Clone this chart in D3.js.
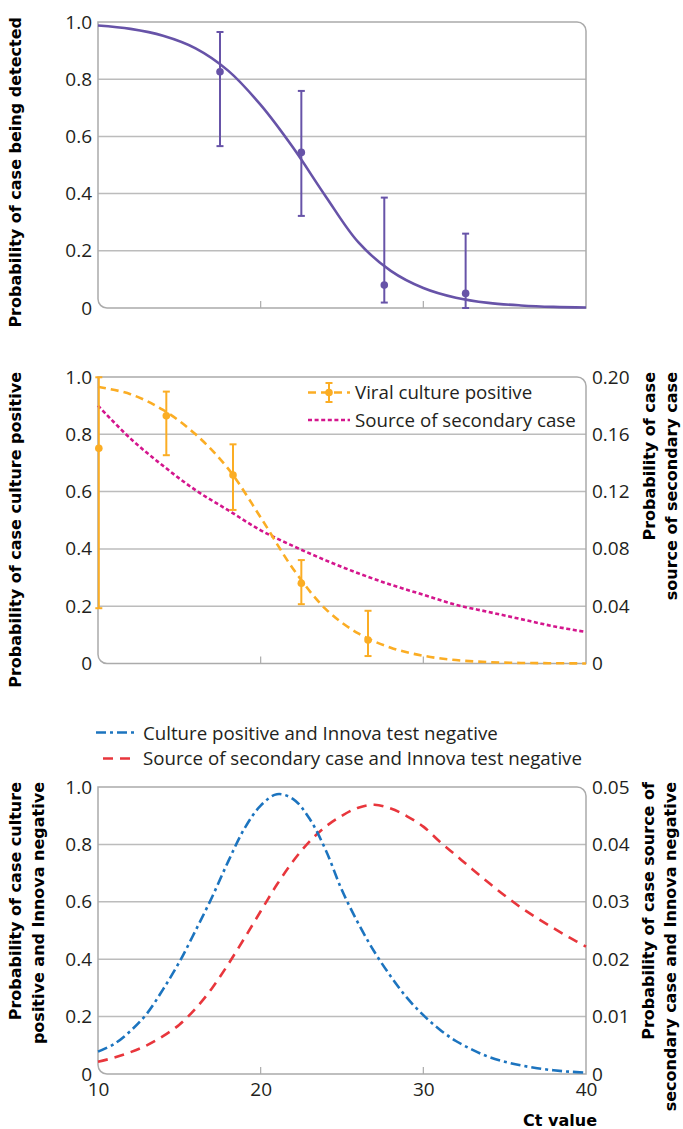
<!DOCTYPE html>
<html>
<head>
<meta charset="utf-8">
<script src="https://cdn.jsdelivr.net/npm/d3@7"></script>
<style>
  body { margin: 0; background: #fff; }
  svg text { font-family: "Open Sans", sans-serif; fill: #231f20; }
  .tick text { font-size: 19px; }
  .legend text { font-size: 18.7px; }
  .title { font-family: "DejaVu Sans", sans-serif; font-weight: bold; font-size: 16px; fill: #000; }
</style>
</head>
<body>
<svg id="chart" width="683" height="1129"></svg>
<script>
/*
** Data
*/
var ctTicks = [10, 20, 30, 40];
var leftTicks = [0, 0.2, 0.4, 0.6, 0.8, 1.0];
var gridTicks = [0.2, 0.4, 0.6, 0.8];
var midRightTicks = [0, 0.04, 0.08, 0.12, 0.16, 0.20];
var lowRightTicks = [0, 0.01, 0.02, 0.03, 0.04, 0.05];

// panel A: detection by lateral flow
var detectCt = [17.5, 22.5, 27.6, 32.6];
var detectP = [0.826, 0.544, 0.080, 0.051];
var detectLo = [0.566, 0.322, 0.019, 0.0];
var detectHi = [0.965, 0.759, 0.386, 0.26];

var curveCt = [10, 12, 14, 16, 18, 20, 22, 24, 26, 28, 30, 32, 34, 36, 38, 40];
var detectCurve = [0.988, 0.976, 0.952, 0.908, 0.83, 0.71, 0.56, 0.39, 0.23, 0.13, 0.07, 0.036, 0.018, 0.009, 0.004, 0.002];

// panel B: culture positive + secondary case
var cultureCt = [10.05, 14.2, 18.3, 22.5, 26.6];
var cultureP = [0.751, 0.865, 0.658, 0.28, 0.082];
var cultureLo = [0.193, 0.727, 0.536, 0.207, 0.026];
var cultureHi = [0.999, 0.949, 0.765, 0.361, 0.184];
var cultureCurve = [0.966, 0.94, 0.885, 0.80, 0.68, 0.51, 0.33, 0.19, 0.105, 0.055, 0.027, 0.012, 0.005, 0.002, 0.001, 0.0];
var secondaryCurve = [0.180, 0.157, 0.138, 0.121, 0.107, 0.093, 0.082, 0.072, 0.063, 0.055, 0.048, 0.041, 0.036, 0.031, 0.026, 0.022];

// panel C: missed by the Innova test
var jointCt = [10, 11, 12, 13, 14, 15, 16, 17, 18, 19, 20, 21, 22, 23, 24, 25, 26, 27, 28, 29, 30, 31, 32, 33, 34, 35, 36, 37, 38, 39, 40];
var cultureNegCurve = [0.078, 0.105, 0.15, 0.21, 0.295, 0.39, 0.50, 0.615, 0.74, 0.855, 0.935, 0.975, 0.958, 0.89, 0.78, 0.64, 0.525, 0.425, 0.34, 0.265, 0.205, 0.155, 0.115, 0.085, 0.06, 0.043, 0.03, 0.02, 0.013, 0.008, 0.005];
var secondaryNegCurve = [0.00215, 0.00285, 0.0038, 0.005, 0.0066, 0.0086, 0.0114, 0.0149, 0.0191, 0.02365, 0.02835, 0.033, 0.0371, 0.0405, 0.0431, 0.045, 0.0464, 0.0469, 0.04625, 0.0449, 0.0431, 0.0405, 0.0381, 0.0357, 0.03335, 0.0311, 0.029, 0.02715, 0.0254, 0.02375, 0.0222];

var colors = {
    purple: "#6753a8"
  , orange: "#fbad24"
  , magenta: "#d4168d"
  , blue: "#1c74bf"
  , red: "#e8363c"
  , grid: "#bcbcbc"
  , frame: "#ababab"
};

/*
** Layout
*/
var svg = d3.select("#chart");
var left = 98, right = 586;
var x = d3.scaleLinear().domain([10, 40]).range([left, right]);

var fmtLeft = function(d) { return d === 0 ? "0" : d3.format(".1f")(d); };
var fmtRight = function(d) { return d === 0 ? "0" : d3.format(".2f")(d); };

function framePath(top, bottom) {
    var r = 9;
    return "M" + left + "," + top
      + "H" + (right - r)
      + "A" + r + "," + r + " 0 0 1 " + right + "," + (top + r)
      + "V" + bottom
      + "H" + (left + r)
      + "A" + r + "," + r + " 0 0 1 " + left + "," + (bottom - r)
      + "Z";
}

function panel(top, bottom) {
    var g = svg.append("g");
    var y = d3.scaleLinear().domain([0, 1]).range([bottom, top]);

    g.selectAll("line.grid").data(gridTicks)
      .enter().append("line")
        .attr("class", "grid")
        .attr("x1", left).attr("x2", right)
        .attr("y1", y).attr("y2", y)
        .attr("stroke", colors.grid)
        .attr("stroke-width", 1.5);

    g.append("path")
        .attr("d", framePath(top, bottom))
        .attr("fill", "none")
        .attr("stroke", colors.frame)
        .attr("stroke-width", 1.5);

    g.selectAll("line.xtick").data([20, 30])
      .enter().append("line")
        .attr("x1", x).attr("x2", x)
        .attr("y1", bottom).attr("y2", bottom - 7)
        .attr("stroke", colors.frame)
        .attr("stroke-width", 1.2);

    var axL = g.append("g")
        .attr("transform", "translate(" + left + ",0)")
        .call(d3.axisLeft(y).tickValues(leftTicks).tickFormat(fmtLeft).tickSize(0).tickPadding(6));
    axL.select(".domain").remove();
    axL.selectAll("text").attr("font-family", null).attr("font-size", null);

    return { g: g, y: y, top: top, bottom: bottom };
}

function rightAxis(p, domain, ticks) {
    var y2 = d3.scaleLinear().domain(domain).range([p.bottom, p.top]);
    var ax = p.g.append("g")
        .attr("transform", "translate(" + right + ",0)")
        .call(d3.axisRight(y2).tickValues(ticks).tickFormat(fmtRight).tickSize(0).tickPadding(6));
    ax.select(".domain").remove();
    ax.selectAll("text").attr("font-family", null).attr("font-size", null);
    return y2;
}

function title(lines, xs, yEnd) {
    lines.forEach(function(t, i) {
        svg.append("text")
            .attr("class", "title")
            .attr("text-anchor", "end")
            .attr("transform", "translate(" + xs[i] + "," + yEnd + ") rotate(-90)")
            .text(t);
    });
}

function curve(g, xs, ys, yScale, color, dash) {
    var line = d3.line()
        .x(function(d, i) { return x(xs[i]); })
        .y(function(d) { return yScale(d); })
        .curve(d3.curveCatmullRom.alpha(0.5));
    g.append("path")
        .datum(ys)
        .attr("d", line)
        .attr("fill", "none")
        .attr("stroke", color)
        .attr("stroke-width", 2.6)
        .attr("stroke-dasharray", dash);
}

function errorBars(g, xs, p, lo, hi, yScale, color) {
    var cap = 3.5;
    var eb = g.selectAll(null).data(xs).enter().append("g")
        .attr("stroke", color).attr("stroke-width", 2);
    eb.append("line")
        .attr("x1", function(d) { return x(d); }).attr("x2", function(d) { return x(d); })
        .attr("y1", function(d, i) { return yScale(lo[i]); })
        .attr("y2", function(d, i) { return yScale(hi[i]); });
    eb.append("line")
        .attr("x1", function(d) { return x(d) - cap; }).attr("x2", function(d) { return x(d) + cap; })
        .attr("y1", function(d, i) { return yScale(lo[i]); })
        .attr("y2", function(d, i) { return yScale(lo[i]); });
    eb.append("line")
        .attr("x1", function(d) { return x(d) - cap; }).attr("x2", function(d) { return x(d) + cap; })
        .attr("y1", function(d, i) { return yScale(hi[i]); })
        .attr("y2", function(d, i) { return yScale(hi[i]); });
    g.selectAll(null).data(xs).enter().append("circle")
        .attr("cx", function(d) { return x(d); })
        .attr("cy", function(d, i) { return yScale(p[i]); })
        .attr("r", 3.8)
        .attr("fill", color);
}

/*
** Panel A
*/
var pA = panel(22, 308);
curve(pA.g, curveCt, detectCurve, pA.y, colors.purple, null);
errorBars(pA.g, detectCt, detectP, detectLo, detectHi, pA.y, colors.purple);
title(["Probability of case being detected"], [21], 17);

/*
** Panel B
*/
var pB = panel(377, 663.5);
var yB2 = rightAxis(pB, [0, 0.2], midRightTicks);
curve(pB.g, curveCt, secondaryCurve, yB2, colors.magenta, "4,2.6");
curve(pB.g, curveCt, cultureCurve, pB.y, colors.orange, "8,5");
errorBars(pB.g, cultureCt, cultureP, cultureLo, cultureHi, pB.y, colors.orange);
title(["Probability of case culture positive"], [21], 372);
title(["Probability of case", "source of secondary case"], [655, 677], 372);

var legB = svg.append("g").attr("class", "legend");
legB.append("line")
    .attr("x1", 308).attr("x2", 350).attr("y1", 392.5).attr("y2", 392.5)
    .attr("stroke", colors.orange).attr("stroke-width", 2.6).attr("stroke-dasharray", "8,5");
legB.append("line")
    .attr("x1", 329).attr("x2", 329).attr("y1", 383).attr("y2", 402)
    .attr("stroke", colors.orange).attr("stroke-width", 2);
legB.selectAll("line.cap").data([383, 402]).enter().append("line")
    .attr("x1", 325.5).attr("x2", 332.5).attr("y1", function(d) { return d; }).attr("y2", function(d) { return d; })
    .attr("stroke", colors.orange).attr("stroke-width", 2);
legB.append("circle").attr("cx", 329).attr("cy", 392.5).attr("r", 3.8).attr("fill", colors.orange);
legB.append("text").attr("x", 355).attr("y", 399).text("Viral culture positive");
legB.append("line")
    .attr("x1", 308).attr("x2", 350).attr("y1", 420).attr("y2", 420)
    .attr("stroke", colors.magenta).attr("stroke-width", 2.6).attr("stroke-dasharray", "4,2.6");
legB.append("text").attr("x", 355).attr("y", 426.5).text("Source of secondary case");

/*
** Panel C
*/
var pC = panel(787, 1074);
var yC2 = rightAxis(pC, [0, 0.05], lowRightTicks);
curve(pC.g, jointCt, secondaryNegCurve, yC2, colors.red, "10,7");
curve(pC.g, jointCt, cultureNegCurve, pC.y, colors.blue, "10,4,3,4");
title(["Probability of case culture", "positive and Innova negative"], [21, 44], 782);
title(["Probability of case source of", "secondary case and Innova negative"], [654, 676], 782);

var axX = pC.g.append("g")
    .attr("transform", "translate(0," + 1074 + ")")
    .call(d3.axisBottom(x).tickValues(ctTicks).tickFormat(d3.format("d")).tickSize(0).tickPadding(8.5));
axX.select(".domain").remove();
axX.selectAll("text").attr("font-family", null).attr("font-size", null);

svg.append("text")
    .attr("class", "title")
    .attr("text-anchor", "end")
    .attr("x", 597).attr("y", 1126)
    .text("Ct value");

var legC = svg.append("g").attr("class", "legend");
legC.append("line")
    .attr("x1", 96).attr("x2", 137).attr("y1", 732.5).attr("y2", 732.5)
    .attr("stroke", colors.blue).attr("stroke-width", 2.6).attr("stroke-dasharray", "10,4,3,4");
legC.append("text").attr("x", 143).attr("y", 739.5).text("Culture positive and Innova test negative");
legC.append("line")
    .attr("x1", 103).attr("x2", 137).attr("y1", 758.5).attr("y2", 758.5)
    .attr("stroke", colors.red).attr("stroke-width", 2.6).attr("stroke-dasharray", "10,7");
legC.append("text").attr("x", 143).attr("y", 765).text("Source of secondary case and Innova test negative");
</script>
</body>
</html>
